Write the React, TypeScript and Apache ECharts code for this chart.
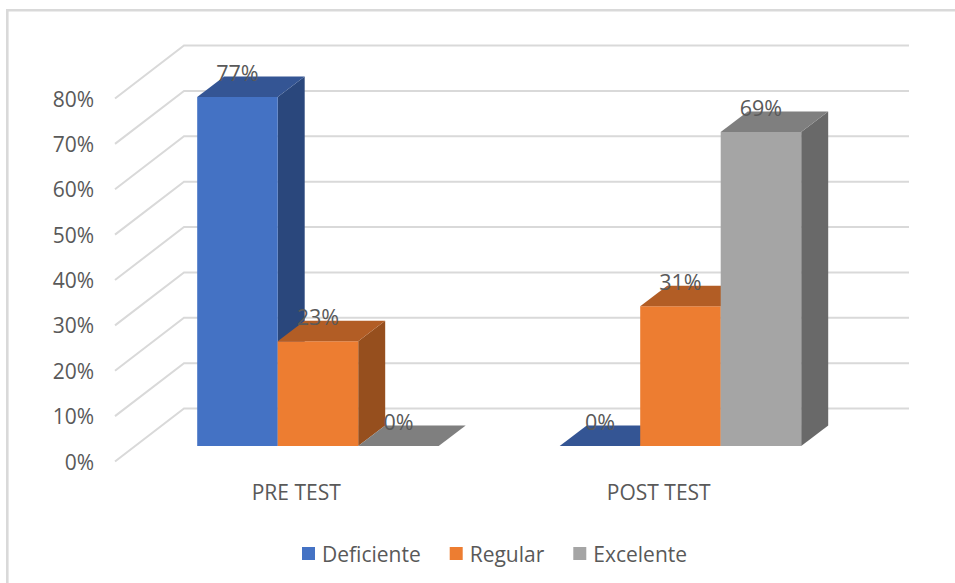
import React, { useEffect, useRef } from "react";
import * as echarts from "echarts";

const categories = ["PRE TEST", "POST TEST"];
const seriesNames = ["Deficiente", "Regular", "Excelente"];
const deficiente = [76.9, 0];
const regular = [23.1, 30.8];
const excelente = [0, 69.2];
const gridTicks = [0, 10, 20, 30, 40, 50, 60, 70, 80];

const frontColors = ["#4472c4", "#ed7d31", "#a5a5a5"];
const topColors = ["#345594", "#b25d25", "#7f7f7f"];
const sideColors = ["#2a477c", "#964f1e", "#696969"];
const TEXT = "#595959";
const LINE = "#d9d9d9";
const FONT = "'Open Sans', sans-serif";

// oblique projection of the 3D look, in pixels
const WALL = { dx: 69, dy: -53 };
const PLANE = { dx: 21.7, dy: -15.5 };
const DEPTH = { dx: 27, dy: -20.5 };
const BAR_W = 80.5;

const makeBarSeries = (name: string, values: number[], idx: number) => ({
  type: "custom",
  name,
  z: 3 + idx,
  itemStyle: { color: frontColors[idx] },
  encode: { x: 0, y: 1 },
  data: values.map((v, i) => [i, v]),
  renderItem: (_: any, api: any) => {
    const c = api.coord([api.value(0), api.value(1)]);
    const base = api.coord([api.value(0), 0]);
    const x0 = c[0] + PLANE.dx + (idx - 1.5) * BAR_W;
    const x1 = x0 + BAR_W;
    const yT = c[1] + PLANE.dy;
    const yB = base[1] + PLANE.dy;
    const d = DEPTH;
    const children: any[] = [];
    if (yB - yT > 0.5) {
      children.push({
        type: "polygon",
        shape: { points: [[x1, yT], [x1 + d.dx, yT + d.dy], [x1 + d.dx, yB + d.dy], [x1, yB]] },
        style: { fill: sideColors[idx] },
      });
      children.push({
        type: "rect",
        shape: { x: x0, y: yT, width: BAR_W, height: yB - yT },
        style: { fill: frontColors[idx] },
      });
    }
    children.push({
      type: "polygon",
      shape: { points: [[x0, yT], [x1, yT], [x1 + d.dx, yT + d.dy], [x0 + d.dx, yT + d.dy]] },
      style: { fill: topColors[idx] },
    });
    return { type: "group", children };
  },
});

const allValues = [deficiente, regular, excelente];

export default function App() {
  const ref = useRef<HTMLDivElement>(null);
  useEffect(() => {
    const chart = echarts.init(ref.current!, undefined, { renderer: "svg" });
    chart.setOption({
      animation: false,
      backgroundColor: "#ffffff",
      textStyle: { fontFamily: FONT },
      graphic: [
        {
          type: "polyline",
          shape: { points: [[955, 10.2], [7.3, 10.2], [7.3, 583]] },
          style: { stroke: LINE, lineWidth: 2.6, fill: "none" },
        },
      ],
      legend: {
        data: seriesNames,
        left: 297,
        top: 538,
        icon: "rect",
        itemWidth: 13,
        itemHeight: 13,
        itemGap: 29,
        textStyle: { color: TEXT, fontSize: 21, fontFamily: FONT, padding: [0, 0, 0, 2] },
        selectedMode: false,
      },
      grid: { left: 115, top: 98.5, width: 725, height: 363 },
      xAxis: {
        type: "category",
        data: categories,
        axisLine: { show: false },
        axisTick: { show: false },
        axisLabel: { color: TEXT, fontSize: 21, margin: 20, fontFamily: FONT },
      },
      yAxis: {
        type: "value",
        min: 0,
        max: 80,
        interval: 10,
        splitLine: { show: false },
        axisLine: { show: false },
        axisTick: { show: false },
        axisLabel: { color: TEXT, fontSize: 21, margin: 21, formatter: "{value}%", fontFamily: FONT, padding: [4, 0, 0, 0] },
      },
      series: [
        {
          type: "custom",
          name: "grid",
          z: 1,
          silent: true,
          encode: { y: 0 },
          data: gridTicks.map((t) => [t]),
          renderItem: (params: any, api: any) => {
            const sys = params.coordSys;
            const y = api.coord([0, api.value(0)])[1];
            return {
              type: "polyline",
              shape: {
                points: [
                  [sys.x, y],
                  [sys.x + WALL.dx, y + WALL.dy],
                  [sys.x + sys.width + WALL.dx, y + WALL.dy],
                ],
              },
              style: { stroke: LINE, lineWidth: 2, fill: "none" },
            };
          },
        },
        ...seriesNames.map((n, i) => makeBarSeries(n, allValues[i], i)),
        {
          type: "custom",
          name: "labels",
          z: 10,
          silent: true,
          encode: { x: 0, y: 1 },
          data: allValues.flatMap((vals, s) => vals.map((v, i) => [i, v, s])),
          renderItem: (_: any, api: any) => {
            const c = api.coord([api.value(0), api.value(1)]);
            const s = api.value(2);
            return {
              type: "text",
              x: c[0] + PLANE.dx + (s - 1) * BAR_W,
              y: c[1] + PLANE.dy - 25,
              style: {
                text: Math.round(api.value(1)) + "%",
                fill: TEXT,
                fontSize: 21.5,
                fontFamily: FONT,
                align: "center",
                verticalAlign: "middle",
              },
            };
          },
        },
      ],
    });
    return () => chart.dispose();
  }, []);
  return (
    <div
      ref={ref}
      style={{ position: "fixed", left: 0, top: 0, width: 955, height: 583 }}
    />
  );
}
